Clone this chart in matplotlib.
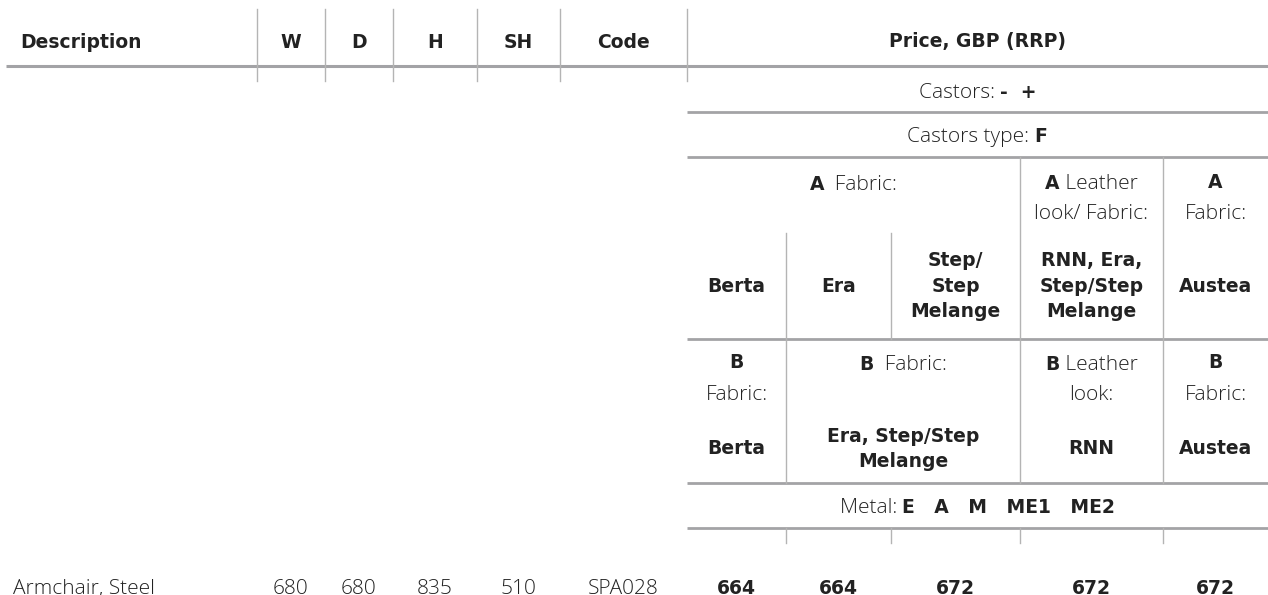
import matplotlib
matplotlib.use("Agg")
import matplotlib.pyplot as plt

# table content
head_cols = ["Description", "W", "D", "H", "SH", "Code"]
price_title = "Price, GBP (RRP)"
castors = [("Castors: ", "light"), ("-  +", "bold")]
castors_type = [("Castors type: ", "light"), ("F", "bold")]
metal = [("Metal: ", "light"), ("E   A   M   ME1   ME2", "bold")]
a_fabrics = ["Berta", "Era", "Step/\nStep\nMelange", "RNN, Era,\nStep/Step\nMelange", "Austea"]
b_fabrics = ["Berta", "Era, Step/Step\nMelange", "RNN", "Austea"]
row_desc = "Armchair, Steel"
row_dims = ["680", "680", "835", "510", "SPA028"]
row_prices = ["664", "664", "672", "672", "672"]

W, H = 1268, 595
fig = plt.figure(figsize=(W / 100, H / 100), dpi=100)
ax = fig.add_axes([0, 0, 1, 1])
ax.set_xlim(0, W)
ax.set_ylim(H, 0)
ax.axis("off")

BOLD_FONT = "DejaVu Sans"
LIGHT_FONT = "Open Sans"
BFS = 13.5
LFS = 15
TXT = "#222222"
HLINE = "#a3a3a6"
VLINE = "#b4b4b4"

# column edges
hx = [257, 325, 393, 477, 560, 687]
px = [687, 786, 891, 1020, 1163, W]
pc = [(px[i] + px[i + 1]) / 2 for i in range(5)]
head_centers = [None] + [(hx[i] + hx[i + 1]) / 2 for i in range(5)]

# lines
ax.plot([6, W], [66, 66], color=HLINE, lw=2.2, solid_capstyle="butt")
for x in hx:
    ax.plot([x, x], [9, 81], color=VLINE, lw=1.0)
for y in [112, 157, 339, 483, 528]:
    ax.plot([px[0], W], [y, y], color=HLINE, lw=2.0, solid_capstyle="butt")
for x in [px[3], px[4]]:
    ax.plot([x, x], [157, 483], color=VLINE, lw=1.0)
for x in [px[1], px[2]]:
    ax.plot([x, x], [233, 339], color=VLINE, lw=1.0)
ax.plot([px[1], px[1]], [339, 483], color=VLINE, lw=1.0)
for x in px[1:5]:
    ax.plot([x, x], [528, 543], color=VLINE, lw=1.0)


def style(weight):
    if weight == "bold":
        return dict(family=BOLD_FONT, fontweight="bold", fontsize=BFS)
    return dict(family=LIGHT_FONT, fontweight="light", fontsize=LFS)


def txt(x, y, s, weight="light", ha="center", ls=1.45):
    return ax.text(x, y, s, ha=ha, va="center", color=TXT, linespacing=ls,
                   **style(weight))


renderer = fig.canvas.get_renderer()


def mixed(xc, y, parts):
    objs = [ax.text(0, y, s, ha="left", va="baseline", color=TXT, **style(w))
            for s, w in parts]
    widths = [o.get_window_extent(renderer).width for o in objs]
    x = xc - sum(widths) / 2
    for o, wd in zip(objs, widths):
        o.set_x(x)
        x += wd


# header
txt(20, 42, head_cols[0], weight="bold", ha="left")
for c, s in zip(head_centers[1:], head_cols[1:]):
    txt(c, 42, s, weight="bold")
txt((px[0] + W) / 2, 42, price_title, weight="bold")

# baselines for mixed rows (cap centre + ~7px)
mixed((px[0] + W) / 2, 98, castors)
mixed((px[0] + W) / 2, 142, castors_type)

# A group
mixed((px[0] + px[3]) / 2, 190, [("A", "bold"), ("  Fabric:", "light")])
mixed(pc[3], 189, [("A", "bold"), (" Leather", "light")])
txt(pc[3], 214, "look/ Fabric:")
txt(pc[4], 182, "A", weight="bold")
txt(pc[4], 214, "Fabric:")
for c, s in zip(pc, a_fabrics):
    txt(c, 286, s, weight="bold")

# B group
b_centers = [pc[0], (px[1] + px[3]) / 2, pc[3], pc[4]]
txt(pc[0], 363, "B", weight="bold")
txt(pc[0], 395, "Fabric:")
mixed(b_centers[1], 370, [("B", "bold"), ("  Fabric:", "light")])
mixed(pc[3], 370, [("B", "bold"), (" Leather", "light")])
txt(pc[3], 395, "look:")
txt(pc[4], 363, "B", weight="bold")
txt(pc[4], 395, "Fabric:")
for i, (c, s) in enumerate(zip(b_centers, b_fabrics)):
    txt(c, 449 if i == 1 else 448, s, weight="bold")

mixed((px[0] + W) / 2, 513, metal)

# data row
txt(13, 589, row_desc, ha="left")
for c, s in zip(head_centers[1:], row_dims):
    txt(c, 589, s)
for c, s in zip(pc, row_prices):
    txt(c, 589, s, weight="bold")

fig.savefig("out.png", dpi=100, facecolor="white")
